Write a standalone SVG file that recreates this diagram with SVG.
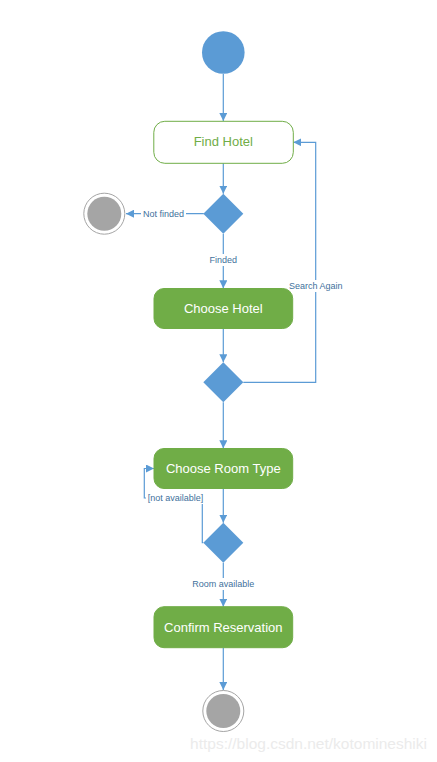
<svg xmlns="http://www.w3.org/2000/svg" width="437" height="762" viewBox="0 0 437 762">
<style>
.edge{fill:none;stroke:#5B9BD5;stroke-width:1.2}
.act{fill:#70AD47;stroke:#70AD47}
.lbl{font-family:"Liberation Sans",Arial,sans-serif;font-size:13px;fill:#FFFFFF;text-anchor:middle}
.elbl{font-family:"Liberation Sans",Arial,sans-serif;font-size:9px;fill:#41719C;text-anchor:middle}
.dec{fill:#5B9BD5}
.endo{fill:#FFFFFF;stroke:#A5A5A5;stroke-width:1}
.endi{fill:#A5A5A5}
</style>
<defs>
<marker id="arr" viewBox="0 0 10 10" refX="10" refY="5" markerWidth="8" markerHeight="8" markerUnits="userSpaceOnUse" orient="auto">
<path d="M0,0 L10,5 L0,10 Z" fill="#5B9BD5"/>
</marker>
</defs>
<rect width="437" height="762" fill="#FFFFFF"/>
<g id="connectors">
<path class="edge" d="M223.3,74 L223.3,121" marker-end="url(#arr)"/>
<path class="edge" d="M223.3,163.3 L223.3,193.7" marker-end="url(#arr)"/>
<path class="edge" d="M203.8,213.7 L126,213.7" marker-end="url(#arr)"/>
<path class="edge" d="M223.3,233.7 L223.3,288.3" marker-end="url(#arr)"/>
<path class="edge" d="M223.3,328.7 L223.3,362.3" marker-end="url(#arr)"/>
<path class="edge" d="M243.3,382.3 L315.7,382.3 L315.7,142.3 L293.3,142.3" marker-end="url(#arr)"/>
<path class="edge" d="M223.3,402.3 L223.3,448.3" marker-end="url(#arr)"/>
<path class="edge" d="M223.3,488.7 L223.3,522.7" marker-end="url(#arr)"/>
<path class="edge" d="M203.3,542.7 L202.3,542.7 L202.3,498 L144.3,498 L144.3,468.5 L154,468.5" marker-end="url(#arr)"/>
<path class="edge" d="M223.3,562.7 L223.3,606.7" marker-end="url(#arr)"/>
<path class="edge" d="M223.3,647.7 L223.3,690" marker-end="url(#arr)"/>
<rect x="141" y="208" width="45" height="12" fill="#FFFFFF"/>
<text class="elbl" x="163.5" y="216.8">Not finded</text>
<rect x="207" y="254" width="32" height="12" fill="#FFFFFF"/>
<text class="elbl" x="223.3" y="263">Finded</text>
<rect x="289" y="280" width="54" height="12" fill="#FFFFFF"/>
<text class="elbl" x="315.7" y="289">Search Again</text>
<rect x="146" y="492" width="58" height="12" fill="#FFFFFF"/>
<text class="elbl" x="175.5" y="501">[not available]</text>
<rect x="191" y="578" width="65" height="12" fill="#FFFFFF"/>
<text class="elbl" x="223.3" y="587">Room available</text>
</g>
<g id="start">
<circle cx="223.3" cy="52.5" r="21.3" fill="#5B9BD5"/>
</g>
<g id="find-hotel">
<rect x="153.8" y="121.3" width="139.5" height="42" rx="11" fill="#FFFFFF" stroke="#70AD47" stroke-width="1"/>
<text class="lbl" x="223.3" y="146" style="fill:#70AD47">Find Hotel</text>
</g>
<g id="decision-found">
<path class="dec" d="M223.3,193.7 L243.3,213.7 L223.3,233.7 L203.3,213.7 Z"/>
</g>
<g id="end-notfound">
<circle class="endo" cx="104.3" cy="213.7" r="20.5"/>
<circle class="endi" cx="104.3" cy="213.7" r="17"/>
</g>
<g id="choose-hotel">
<rect class="act" x="154" y="288.5" width="138.7" height="40" rx="10"/>
<text class="lbl" x="223.3" y="313">Choose Hotel</text>
</g>
<g id="decision-search">
<path class="dec" d="M223.3,362.3 L243.3,382.3 L223.3,402.3 L203.3,382.3 Z"/>
</g>
<g id="choose-room">
<rect class="act" x="154" y="448.5" width="138.7" height="40" rx="10"/>
<text class="lbl" x="223.3" y="473">Choose Room Type</text>
</g>
<g id="decision-room">
<path class="dec" d="M223.3,522.7 L243.3,542.7 L223.3,562.7 L203.3,542.7 Z"/>
</g>
<g id="confirm">
<rect class="act" x="154" y="606.7" width="138.7" height="41" rx="10"/>
<text class="lbl" x="223.3" y="631.5">Confirm Reservation</text>
</g>
<g id="end-final">
<circle class="endo" cx="223.3" cy="711" r="20.5"/>
<circle class="endi" cx="223.3" cy="711" r="17"/>
</g>
<text x="427" y="749" font-family="Liberation Sans,Arial,sans-serif" font-size="15.5" fill="#EBEBEB" text-anchor="end">https://blog.csdn.net/kotomineshiki</text>
</svg>
